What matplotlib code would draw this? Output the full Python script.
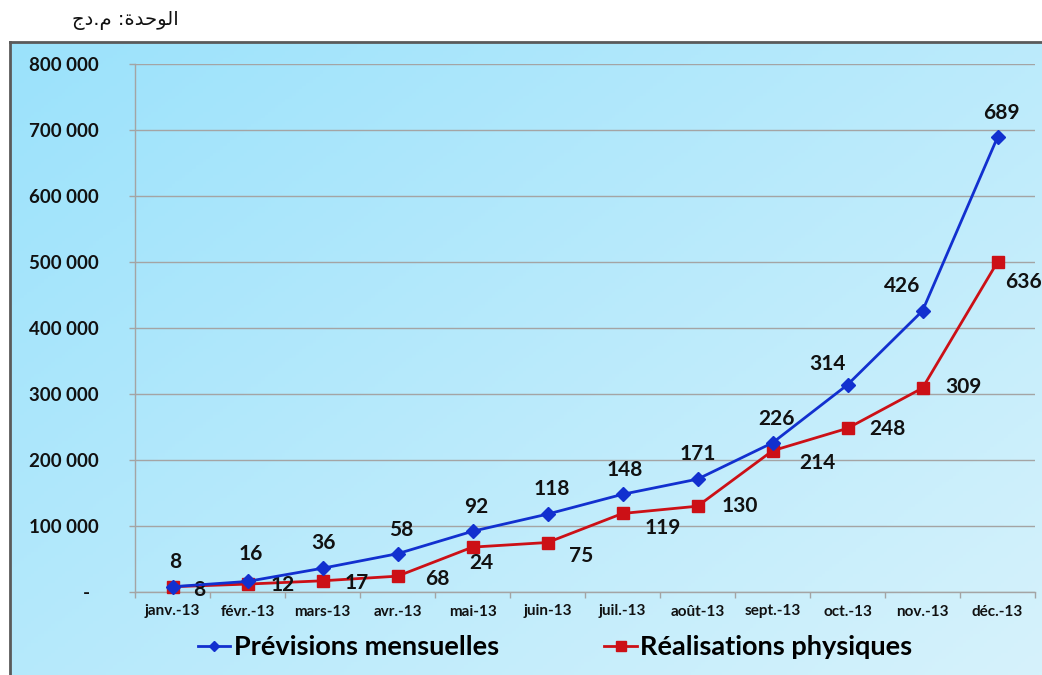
import numpy as np
import matplotlib
matplotlib.use("Agg")
import matplotlib.pyplot as plt
from matplotlib.lines import Line2D
from matplotlib.ticker import FuncFormatter

plt.rcParams["font.family"] = ["Lato", "DejaVu Sans"]

# ── data (values in DA, labels in thousands) ───────────────────────────────────
months = ["janv.-13", "févr.-13", "mars-13", "avr.-13", "mai-13", "juin-13",
          "juil.-13", "août-13", "sept.-13", "oct.-13", "nov.-13", "déc.-13"]
previsions = [8000, 16000, 36000, 58000, 92000, 118000,
              148000, 171000, 226000, 314000, 426000, 689000]
realisations = [8000, 12000, 17000, 24000, 68000, 75000,
                119000, 130000, 214000, 248000, 309000, 500000]
prev_labels = ["8", "16", "36", "58", "92", "118",
               "148", "171", "226", "314", "426", "689"]
real_labels = ["8", "12", "17", "68", "24", "75",
               "119", "130", "214", "248", "309", "636"]
yticks = list(range(0, 800001, 100000))

# label offsets from each point, in pixels
prev_off = [(3, 25), (3, 27), (1, 25), (4, 24), (4, 24), (4, 25),
            (2, 24), (0, 25), (4, 24), (-20, 21), (-20, 25), (4, 24)]
real_off = [(27, -3), (35, -1), (34, -2), (40, -3), (9, -16), (34, -14),
            (40, -15), (42, 0), (45, -12), (40, -1), (41, 1), (26, -20)]

BLUE = "#1230cf"
RED = "#cc1016"
GRID = "#a4a4a4"

W, H = 1042, 675
fig = plt.figure(figsize=(W / 100, H / 100), dpi=100)
fig.patch.set_facecolor("white")

# ── gradient chart background with frame ───────────────────────────────────────
bg = fig.add_axes([10 / W, 0, 1 - 10 / W, (H - 42) / H], zorder=0)
gx, gy = np.meshgrid(np.linspace(0, 1, 300), np.linspace(0, 1, 200))
t = np.clip(0.55 * gx + 0.45 * gy, 0, 1)[..., None]
c0 = np.array([155, 226, 252]) / 255
c1 = np.array([214, 242, 251]) / 255
bg.imshow(c0 * (1 - t) + c1 * t, aspect="auto", extent=(0, 1, 0, 1), origin="upper")
bg.set_xticks([])
bg.set_yticks([])
for s in ("right", "bottom"):
    bg.spines[s].set_visible(False)
for s in ("left", "top"):
    bg.spines[s].set_color("#5a5a5a")
    bg.spines[s].set_linewidth(2)

fig.text(125 / W, 1 - 21 / H, "ﺝﺩ.ﻡ :ﺓﺪﺣﻮﻟﺍ", family="DejaVu Sans",
         fontsize=14, ha="center", va="center", color="#111111")

# ── main plot ──────────────────────────────────────────────────────────────────
ax = fig.add_axes([135 / W, 83 / H, 900 / W, 528 / H], zorder=2)
ax.set_facecolor("none")
x = np.arange(len(months))

ax.plot(x, previsions, color=BLUE, lw=2.0, marker="D", markersize=7,
        zorder=4, clip_on=False)
ax.plot(x, realisations, color=RED, lw=2.0, marker="s", markersize=9,
        zorder=3, clip_on=False)

lab_kw = dict(textcoords="offset points", ha="center", va="center",
              fontsize=15, fontweight="bold", color="#111111",
              annotation_clip=False)
for i in range(len(months)):
    dx, dy = prev_off[i]
    ax.annotate(prev_labels[i], (x[i], previsions[i]),
                xytext=(dx * 0.72, dy * 0.72), **lab_kw)
    dx, dy = real_off[i]
    ax.annotate(real_labels[i], (x[i], realisations[i]),
                xytext=(dx * 0.72, dy * 0.72), **lab_kw)

ax.set_xlim(-0.5, len(months) - 0.5)
ax.set_ylim(0, 800000)

ax.set_xticks(x)
ax.set_xticklabels(months, fontsize=11, fontweight="bold", color="#111111")
ax.set_xticks(np.arange(-0.5, len(months)), minor=True)
ax.tick_params(axis="x", which="major", length=0, pad=9)
ax.tick_params(axis="x", which="minor", length=4.3, color=GRID, width=1)

ax.set_yticks(yticks)
ax.yaxis.set_major_formatter(FuncFormatter(
    lambda v, p: "-  " if v == 0 else f"{int(v):,}".replace(",", " ")))
ax.tick_params(axis="y", length=4.3, color=GRID, width=1, pad=21.6,
               labelsize=13.5, labelcolor="#111111")
for lab in ax.get_yticklabels():
    lab.set_fontweight("bold")

ax.yaxis.grid(True, color=GRID, lw=1)
ax.set_axisbelow(True)
for s in ("top", "right"):
    ax.spines[s].set_visible(False)
for s in ("left", "bottom"):
    ax.spines[s].set_color(GRID)
    ax.spines[s].set_linewidth(1)

# ── legend ─────────────────────────────────────────────────────────────────────
handles = [
    Line2D([], [], color=BLUE, lw=2, marker="D", markersize=5,
           label="Prévisions mensuelles"),
    Line2D([], [], color=RED, lw=2, marker="s", markersize=7,
           label="Réalisations physiques"),
]
fig.legend(handles=handles, loc="center", bbox_to_anchor=(555 / W, 28 / H),
           ncol=2, frameon=False, numpoints=1, handlelength=1.2,
           handletextpad=0.12, columnspacing=3.9,
           prop=dict(family=["Lato", "DejaVu Sans"], weight="bold", size=19.5))

fig.savefig("out.png", dpi=100)
